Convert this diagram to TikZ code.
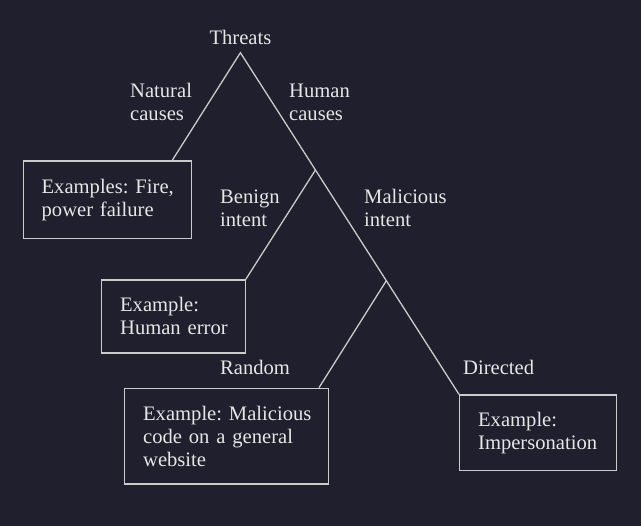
\documentclass[tikz,border=0pt]{standalone}
\usepackage{fontspec}
\setmainfont{Liberation Serif}
\newfontfamily\tnr{Liberation Serif}
\usetikzlibrary{calc}
\definecolor{bg}{HTML}{1F1F2E}
\definecolor{fg}{HTML}{E6E6E6}
\definecolor{ln}{HTML}{CBCBCB}
\begin{document}
\frenchspacing
\begin{tikzpicture}[x=1pt,y=1pt,
  every node/.style={text=fg, font=\tnr\fontsize{20.6}{23}\selectfont},
  box/.style={draw=ln, line width=1.3pt, inner xsep=18.5pt, inner ysep=0pt, align=left, anchor=north west},
  lbl/.style={inner sep=0pt, align=left, anchor=base west},
  edge/.style={draw=ln, line width=1.3pt}]
\fill[bg] (0,0) rectangle (641,526);
\useasboundingbox (0,0) rectangle (641,526);

% boxes
\node[box, text width=131pt, minimum width=168pt, minimum height=77.4pt] (b1) at (22.5,365.7)
  {\mbox{Examples: Fire,}\\\mbox{power failure}};
\node[box, text width=106.5pt, minimum width=143.5pt, minimum height=73pt] (b2) at (101,246.7)
  {\mbox{Example:}\\\mbox{Human error}};
\node[box, text width=167pt, minimum width=204pt, minimum height=95.6pt] (b3) at (124,138.3)
  {\mbox{Example: Malicious}\\\mbox{code on a general}\\\mbox{website}};
\node[box, text width=119.7pt, minimum width=156.7pt, minimum height=75.7pt] (b4) at (459,131.7)
  {\mbox{Example:}\\\mbox{Impersonation}};

% root label and branch points
\node[inner sep=0pt, anchor=base] (t) at (240.4,481.7) {Threats};
\coordinate (A) at (240.4,473.3);
\coordinate (H) at ($(A)!0.3434!(b4.north west)$);
\coordinate (M) at ($(A)!0.6675!(b4.north west)$);

% connectors
\draw[edge] ($(b1.north east)+(-19.5,0)$) -- (A) -- (b4.north west);
\draw[edge] (b2.north east) -- (H);
\draw[edge] ($(b3.north east)+(-10.3,0)$) -- (M);

% branch labels (anchor at baseline of the last line)
\node[lbl] (nat) at (130,405.5) {Natural\\causes};
\node[lbl] (hum) at (289,405.5) {Human\\causes};
\node[lbl] (ben) at (220,299.7) {Benign\\intent};
\node[lbl] (mal) at (364,299.7) {Malicious\\intent};
\node[lbl] (ran) at (220,151.7) {Random};
\node[lbl] (dir) at (463,151.7) {Directed};
\end{tikzpicture}
\end{document}
